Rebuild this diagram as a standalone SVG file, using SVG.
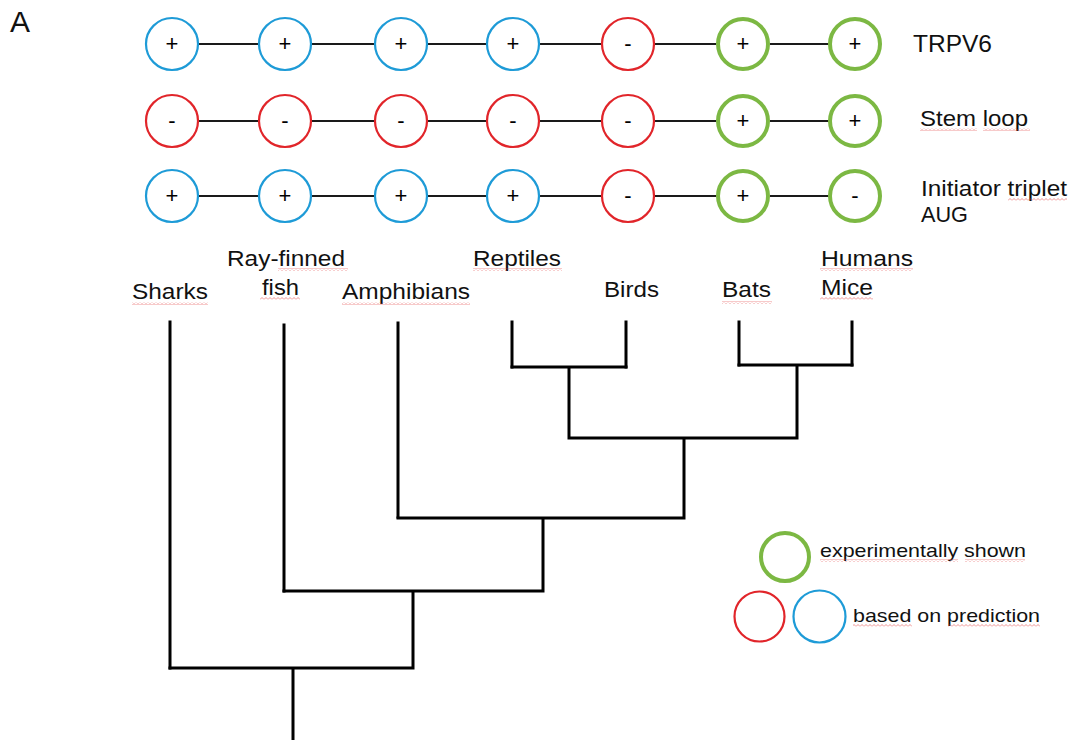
<svg xmlns="http://www.w3.org/2000/svg" width="1073" height="740" viewBox="0 0 1073 740">
<defs>
<style>
.t{font-family:"Liberation Sans",Arial,sans-serif;fill:#111;}
.lab{font-size:22px;}
.sign{font-size:22px;text-anchor:middle;fill:#000;}
.b{fill:#fff;stroke:#1e9bd7;stroke-width:2.2;}
.r{fill:#fff;stroke:#e1252a;stroke-width:2.2;}
.g{fill:#fff;stroke:#7cb843;stroke-width:4;}
.link{stroke:#1a1a1a;stroke-width:2;fill:none;}
.tree{stroke:#000;stroke-width:3;fill:none;stroke-linecap:square;}
.sq{fill:url(#squig);}
</style>
<pattern id="squig" width="4" height="3" patternUnits="userSpaceOnUse">
<path d="M0,2.5 L2,0.5 L4,2.5" fill="none" stroke="#e04040" stroke-width="0.8" opacity="0.7"/>
</pattern>
</defs>
<rect width="1073" height="740" fill="#fff"/>
<text class="t" x="10" y="32" font-size="30">A</text>

<g id="connectors">
<path class="link" d="M198,44H259 M311,44H374 M428,44H487 M540,44H601 M655,44H716 M770,44H829"/>
<path class="link" d="M198,121H259 M311,121H374 M428,121H487 M540,121H601 M655,121H716 M770,121H829"/>
<path class="link" d="M198,196H259 M311,196H374 M428,196H487 M540,196H601 M655,196H716 M770,196H829"/>
</g>

<g id="row-trpv6">
<g id="trpv6-sharks"><circle class="b" cx="172" cy="44" r="26"/><text class="t sign" x="172" y="51">+</text></g>
<g id="trpv6-fish"><circle class="b" cx="285" cy="44" r="26"/><text class="t sign" x="285" y="51">+</text></g>
<g id="trpv6-amphibians"><circle class="b" cx="401" cy="44" r="26"/><text class="t sign" x="401" y="51">+</text></g>
<g id="trpv6-reptiles"><circle class="b" cx="513" cy="44" r="26"/><text class="t sign" x="513" y="51">+</text></g>
<g id="trpv6-birds"><circle class="r" cx="628" cy="44" r="26"/><text class="t sign" x="628" y="51">-</text></g>
<g id="trpv6-bats"><circle class="g" cx="743" cy="44" r="25"/><text class="t sign" x="743" y="51">+</text></g>
<g id="trpv6-mammals"><circle class="g" cx="855" cy="44" r="25"/><text class="t sign" x="855" y="51">+</text></g>
<text class="t" x="913" y="52" font-size="24" textLength="79" lengthAdjust="spacingAndGlyphs">TRPV6</text>
</g>

<g id="row-stemloop">
<g id="stem-sharks"><circle class="r" cx="172" cy="121" r="26"/><text class="t sign" x="172" y="128">-</text></g>
<g id="stem-fish"><circle class="r" cx="285" cy="121" r="26"/><text class="t sign" x="285" y="128">-</text></g>
<g id="stem-amphibians"><circle class="r" cx="401" cy="121" r="26"/><text class="t sign" x="401" y="128">-</text></g>
<g id="stem-reptiles"><circle class="r" cx="513" cy="121" r="26"/><text class="t sign" x="513" y="128">-</text></g>
<g id="stem-birds"><circle class="r" cx="628" cy="121" r="26"/><text class="t sign" x="628" y="128">-</text></g>
<g id="stem-bats"><circle class="g" cx="743" cy="121" r="25"/><text class="t sign" x="743" y="128">+</text></g>
<g id="stem-mammals"><circle class="g" cx="855" cy="121" r="25"/><text class="t sign" x="855" y="128">+</text></g>
<text class="t lab" x="920" y="126" textLength="108" lengthAdjust="spacingAndGlyphs">Stem loop</text>
</g>

<g id="row-aug">
<g id="aug-sharks"><circle class="b" cx="172" cy="196" r="26"/><text class="t sign" x="172" y="203">+</text></g>
<g id="aug-fish"><circle class="b" cx="285" cy="196" r="26"/><text class="t sign" x="285" y="203">+</text></g>
<g id="aug-amphibians"><circle class="b" cx="401" cy="196" r="26"/><text class="t sign" x="401" y="203">+</text></g>
<g id="aug-reptiles"><circle class="b" cx="513" cy="196" r="26"/><text class="t sign" x="513" y="203">+</text></g>
<g id="aug-birds"><circle class="r" cx="628" cy="196" r="26"/><text class="t sign" x="628" y="203">-</text></g>
<g id="aug-bats"><circle class="g" cx="743" cy="196" r="25"/><text class="t sign" x="743" y="203">+</text></g>
<g id="aug-mammals"><circle class="g" cx="855" cy="196" r="25"/><text class="t sign" x="855" y="203">-</text></g>
<text class="t lab" x="921" y="196" textLength="146" lengthAdjust="spacingAndGlyphs">Initiator triplet</text>
<text class="t lab" x="921" y="222" textLength="47" lengthAdjust="spacingAndGlyphs">AUG</text>
</g>

<g id="tree">
<path class="tree" d="M170,322V668 M284,325V591 M398,323V517 M512,322V367 M626,322V367 M739,322V365 M852,322V365"/>
<path class="tree" d="M512,367H626 M569,367V438 M739,365H852 M797,365V438 M569,438H797 M684,438V518 M398,518H684 M543,518V591 M284,591H543 M413,591V668 M170,668H413 M293,668V742"/>
</g>

<g id="taxa">
<g id="label-sharks"><text class="t lab" x="132" y="299" textLength="76" lengthAdjust="spacingAndGlyphs">Sharks</text></g>
<g id="label-fish"><text class="t lab" x="227" y="266" textLength="118" lengthAdjust="spacingAndGlyphs">Ray-finned</text><text class="t lab" x="262" y="295" textLength="37" lengthAdjust="spacingAndGlyphs">fish</text></g>
<g id="label-amphibians"><text class="t lab" x="342" y="299" textLength="128" lengthAdjust="spacingAndGlyphs">Amphibians</text></g>
<g id="label-reptiles"><text class="t lab" x="473" y="266" textLength="88" lengthAdjust="spacingAndGlyphs">Reptiles</text></g>
<g id="label-birds"><text class="t lab" x="604" y="297" textLength="55" lengthAdjust="spacingAndGlyphs">Birds</text></g>
<g id="label-bats"><text class="t lab" x="722" y="297" textLength="49" lengthAdjust="spacingAndGlyphs">Bats</text></g>
<g id="label-mammals"><text class="t lab" x="821" y="266" textLength="92" lengthAdjust="spacingAndGlyphs">Humans</text><text class="t lab" x="821" y="295" textLength="52" lengthAdjust="spacingAndGlyphs">Mice</text></g>
</g>

<g id="legend">
<g id="legend-experimental"><circle class="g" cx="785" cy="557" r="24"/><text class="t" x="820" y="557" font-size="19" textLength="206" lengthAdjust="spacingAndGlyphs">experimentally shown</text></g>
<g id="legend-prediction"><circle class="r" cx="759.5" cy="616.5" r="25"/><circle class="b" cx="819.5" cy="616.5" r="26"/><text class="t" x="853" y="622" font-size="19" textLength="187" lengthAdjust="spacingAndGlyphs">based on prediction</text></g>
</g>

<g id="spellcheck">
<rect class="sq" x="920" y="128" width="57" height="3"/>
<rect class="sq" x="983" y="128" width="47" height="3"/>
<rect class="sq" x="1008" y="198" width="59" height="3"/>
<rect class="sq" x="132" y="302" width="76" height="3"/>
<rect class="sq" x="278" y="268" width="70" height="3"/>
<rect class="sq" x="260" y="297" width="40" height="3"/>
<rect class="sq" x="342" y="302" width="128" height="3"/>
<rect class="sq" x="473" y="268" width="89" height="3"/>
<rect class="sq" x="722" y="301" width="50" height="3"/>
<rect class="sq" x="820" y="268" width="93" height="3"/>
<rect class="sq" x="820" y="297" width="53" height="3"/>
<rect class="sq" x="820" y="559" width="138" height="3"/>
<rect class="sq" x="965" y="559" width="60" height="3"/>
<rect class="sq" x="853" y="624" width="59" height="3"/>
<rect class="sq" x="948" y="624" width="92" height="3"/>
</g>
</svg>
